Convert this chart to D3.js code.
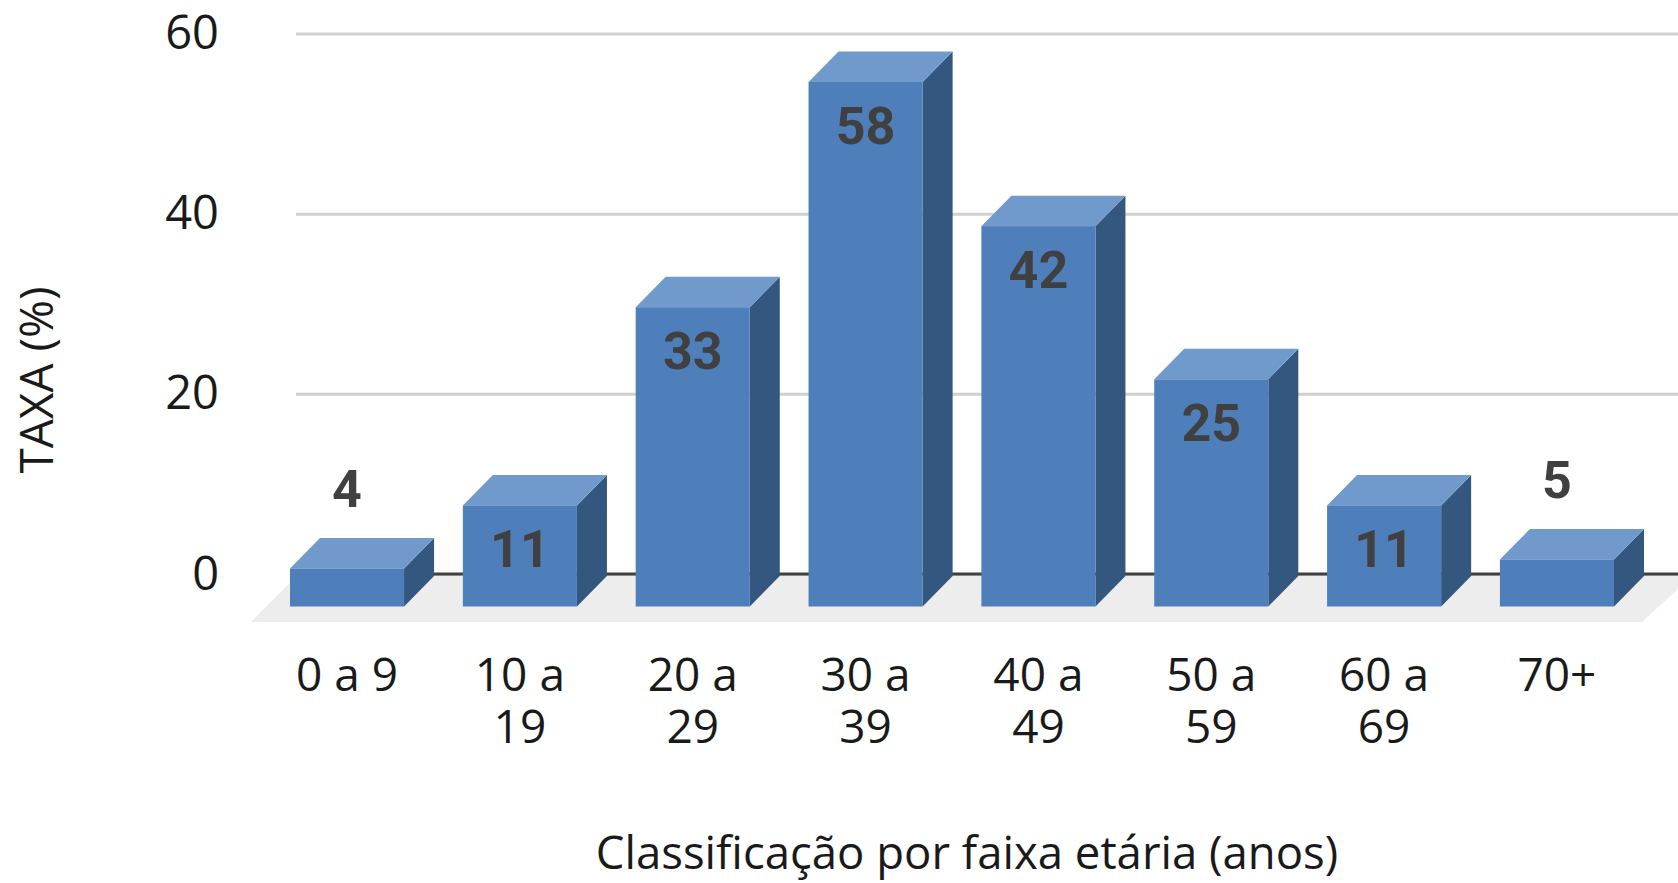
<!DOCTYPE html>
<html lang="pt">
<head>
  <meta charset="UTF-8">
  <script src="https://d3js.org/d3.v7.min.js"></script>
  <style>
    html, body { margin: 0; background: #fff; overflow: hidden; }
    text { font-family: 'Open Sans', sans-serif; fill: #1a1a1a; }
    .grid line { stroke: #d0d0d0; stroke-width: 3px; }
    .value { font-family: Roboto, sans-serif; font-weight: 700; font-size: 52px; fill: #404040; text-anchor: middle; }
  </style>
</head>
<body>
<script>
  const categories = ["0 a 9", "10 a 19", "20 a 29", "30 a 39", "40 a 49", "50 a 59", "60 a 69", "70+"];
  const values = [4, 11, 33, 58, 42, 25, 11, 5];
  const yTicks = [0, 20, 40, 60];
  const xTitle = "Classificação por faixa etária (anos)";
  const yTitle = "TAXA (%)";

  const width = 1678, height = 883;
  const depthX = 30, depthY = 30.5; // fake 3d offset of the bars
  const floorDrop = 32.5;

  const svg = d3.select("body").append("svg")
    .attr("width", width)
    .attr("height", height)
    .style("display", "block");

  const x = d3.scaleBand().domain(categories).range([290, 1614]).paddingInner(0.34);
  const y = d3.scaleLinear().domain([0, 60]).range([574, 33.5]);

  // gridlines + y labels
  const yAxis = svg.append("g")
    .attr("class", "grid")
    .attr("transform", "translate(296,0)")
    .call(d3.axisLeft(y).tickValues(yTicks).tickSize(-(width - 296)).tickPadding(77))
    .call(g => g.select(".domain").remove());
  yAxis.selectAll("text")
    .style("font-family", "'Open Sans', sans-serif")
    .style("font-size", "47px")
    .attr("fill", "#1a1a1a");

  // floor
  const floorPts = [[251, y(0) + 48], [1642, y(0) + 48], [1692, y(0) + 2], [297, y(0) + 2]];
  svg.append("path")
    .attr("d", d3.line()(floorPts) + "Z")
    .attr("fill", "#ededed");

  // zero line
  svg.append("line")
    .attr("x1", 296).attr("x2", width)
    .attr("y1", y(0)).attr("y2", y(0))
    .attr("stroke", "#404040").attr("stroke-width", 3);

  // bars
  const bar = svg.selectAll(".bar")
    .data(values)
    .enter().append("g")
    .attr("class", "bar");

  const left = (d, i) => x(categories[i]);
  const right = (d, i) => left(d, i) + x.bandwidth();
  const frontTop = d => y(d) + depthY;
  const bottom = y(0) + floorDrop;

  bar.append("path") // side
    .attr("fill", "#33577f")
    .attr("d", (d, i) => d3.line()([
      [right(d, i), frontTop(d)],
      [right(d, i) + depthX, y(d)],
      [right(d, i) + depthX, y(0) + 2],
      [right(d, i), bottom]
    ]) + "Z");

  bar.append("path") // top
    .attr("fill", "#7099cc")
    .attr("d", (d, i) => d3.line()([
      [left(d, i), frontTop(d)],
      [left(d, i) + depthX, y(d)],
      [right(d, i) + depthX, y(d)],
      [right(d, i), frontTop(d)]
    ]) + "Z");

  bar.append("rect") // front
    .attr("fill", "#4e7fbb")
    .attr("x", (d, i) => left(d, i))
    .attr("y", d => frontTop(d))
    .attr("width", x.bandwidth())
    .attr("height", d => bottom - frontTop(d));

  // value labels, small bars get them on top
  bar.append("text")
    .attr("class", "value")
    .attr("x", (d, i) => left(d, i) + x.bandwidth() / 2)
    .attr("y", d => d < 10 ? frontTop(d) - 61 : frontTop(d) + 62)
    .text(d => d);

  // category labels, wrapped like the original
  const xAxis = svg.append("g")
    .attr("transform", "translate(0,691)")
    .call(d3.axisBottom(x).tickSize(0).tickPadding(0))
    .call(g => g.select(".domain").remove());

  xAxis.selectAll("text")
    .style("font-family", "'Open Sans', sans-serif")
    .style("font-size", "46px")
    .attr("fill", "#1a1a1a")
    .attr("y", 0)
    .attr("dy", 0)
    .each(function(d) {
      const el = d3.select(this);
      const parts = d.length > 5 ? [d.slice(0, d.lastIndexOf(" ")), d.slice(d.lastIndexOf(" ") + 1)] : [d];
      el.text(null);
      parts.forEach((p, i) => {
        el.append("tspan").attr("x", 0).attr("y", i * 52).text(p);
      });
    });

  svg.append("text")
    .attr("x", 967)
    .attr("y", 869)
    .attr("text-anchor", "middle")
    .style("font-size", "45.5px")
    .text(xTitle);

  svg.append("text")
    .attr("transform", "translate(53,380) rotate(-90)")
    .attr("text-anchor", "middle")
    .style("font-size", "46px")
    .text(yTitle);
</script>
</body>
</html>
